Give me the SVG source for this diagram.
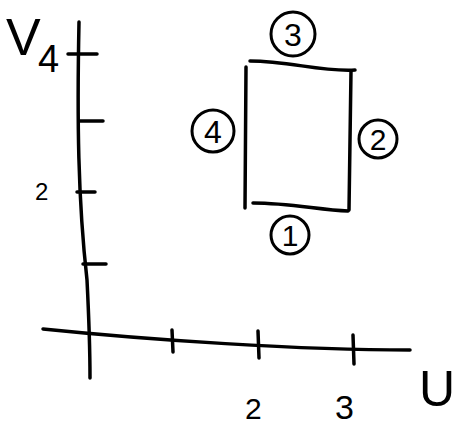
<svg xmlns="http://www.w3.org/2000/svg" width="461" height="427" viewBox="0 0 461 427">
<style>
.ln{fill:none;stroke:#000;stroke-width:3.5;stroke-linecap:round;stroke-linejoin:round}
.c{fill:none;stroke:#000;stroke-width:3}
.t{font-family:"Liberation Sans",Arial,sans-serif;fill:#000}
</style>
<rect width="461" height="427" fill="#fff"/>
<g id="axes">
<path class="ln" d="M79,22 C77,120 78,200 87,280 C89,320 90,360 90,378"/>
<path class="ln" d="M43,329 C150,340 300,350 410,350"/>
<path class="ln" d="M68,54 L97,54"/>
<path class="ln" d="M80,121 L103,121"/>
<path class="ln" d="M77,192 L95,192"/>
<path class="ln" d="M83,264 L106,264"/>
<path class="ln" d="M172,330 L173,352"/>
<path class="ln" d="M258,331 L259,358"/>
<path class="ln" d="M353,335 L354,364"/>
<text class="t" x="6" y="55" font-size="52">V</text>
<text class="t" x="38" y="72" font-size="38">4</text>
<text class="t" x="35" y="200" font-size="24">2</text>
<text class="t" x="245" y="419" font-size="30">2</text>
<text class="t" x="335" y="419" font-size="34">3</text>
<text class="t" x="419" y="406" font-size="50">U</text>
</g>
<g id="rect">
<path class="ln" d="M246,67 L245,208"/>
<path class="ln" d="M250,61 C290,61 320,72 355,70"/>
<path class="ln" d="M351,71 L349,210"/>
<path class="ln" d="M253,203 C290,203 320,210 348,211"/>
</g>
<g id="n3"><circle class="c" cx="293" cy="34" r="22"/><text class="t" x="293" y="46" font-size="32" text-anchor="middle">3</text></g>
<g id="n4"><circle class="c" cx="213" cy="131" r="21"/><text class="t" x="213" y="143" font-size="32" text-anchor="middle">4</text></g>
<g id="n2"><circle class="c" cx="378" cy="139" r="19"/><text class="t" x="378" y="150" font-size="30" text-anchor="middle">2</text></g>
<g id="n1"><circle class="c" cx="290" cy="235" r="19"/><text class="t" x="290" y="246" font-size="30" text-anchor="middle">1</text></g>
</svg>
